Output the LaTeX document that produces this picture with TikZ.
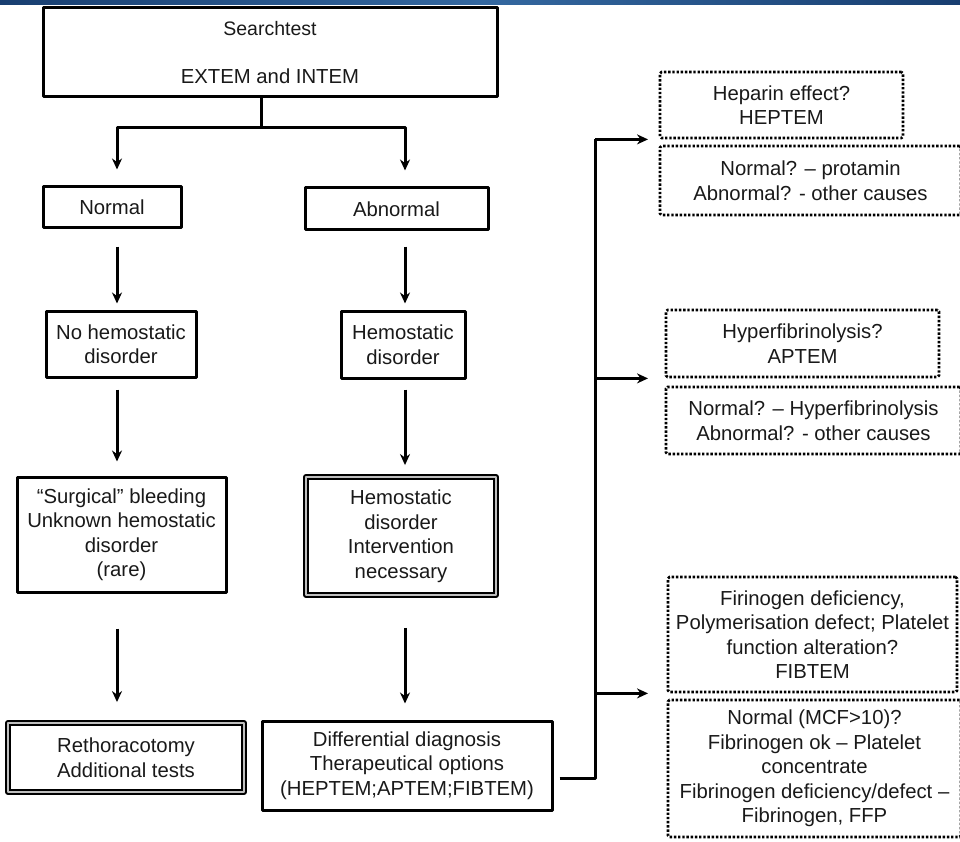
\documentclass[tikz,border=0pt]{standalone}
\usepackage{fontspec}
\setmainfont{Liberation Sans}
\usetikzlibrary{arrows.meta,calc,positioning}
\definecolor{stripblue}{RGB}{52,104,160}
\definecolor{stripdark}{RGB}{24,62,112}

\begin{document}
\begin{tikzpicture}[x=1pt,y=-1pt,>={Stealth[length=11pt,width=10pt]},line join=round,
  every node/.style={font=\fontsize{20.3}{24.5}\selectfont,align=center,text=black!90,inner sep=0pt},
  box/.style 2 args={draw,line width=3pt,minimum width=#1pt,minimum height=#2pt},
  dblbox/.style 2 args={draw,line width=1.9pt,double=gray!50,double distance=2.4pt,minimum width=#1pt,minimum height=#2pt},
  dotbox/.style 2 args={draw,line width=2.8pt,dash pattern=on 2.4pt off 1.8pt,rounded corners=1.5pt,minimum width=#1pt,minimum height=#2pt},
  arr/.style={->,line width=3pt}]
\useasboundingbox (0,0) rectangle (960,842);
% slide strip on top
\shade[left color=stripdark,right color=stripdark,middle color=stripblue] (0,0) rectangle (960,5);
% search test and the two branches
\node[box={454}{89}] (search) at (270,52.5) {\fontsize{19.5}{24.5}\selectfont Searchtest\\[23.5pt]EXTEM and INTEM};
\node[box={138}{41}] (normal) at (112,207.5) {Normal};
\node[box={183}{42}] (abnormal) at (396.5,209) {Abnormal};
\node[box={150}{66}] (nohemo) at (121,344) {No hemostatic\\disorder};
\node[box={124}{67}] (hemo) at (403,344.5) {Hemostatic\\disorder};
\node[box={209}{115}] (surgical) at (121.5,534.5) {“Surgical” bleeding\\Unknown hemostatic\\disorder\\(rare)};
\node[dblbox={190}{118}] (interv) at (401,536) {Hemostatic\\disorder\\Intervention\\necessary};
\node[dblbox={236}{69}] (rethor) at (126,757.5) {Rethoracotomy\\Additional tests};
\node[box={290}{89}] (diff) at (407,765.5) {Differential diagnosis\\Therapeutical options\\(HEPTEM;APTEM;FIBTEM)};
% tests on the right
\node[dotbox={243}{66}] (hep) at (781.5,105) {Heparin effect?\\HEPTEM};
\node[dotbox={301}{69}] (prot) at (810.5,180.5) {Normal? – protamin\\Abnormal? - other causes};
\node[dotbox={273}{67}] (hyper) at (802.5,343.5) {Hyperfibrinolysis?\\APTEM};
\node[dotbox={295}{67}] (hypnorm) at (813.5,420.5) {Normal? – Hyperfibrinolysis\\Abnormal? - other causes};
\node[dotbox={289}{115}] (fib) at (812.5,634.5) {Firinogen deficiency,\\Polymerisation defect; Platelet\\function alteration?\\FIBTEM};
\node[dotbox={293}{137}] (mcf) at (814.5,768.5) {Normal (MCF>10)?\\Fibrinogen ok – Platelet\\concentrate\\Fibrinogen deficiency/defect –\\Fibrinogen, FFP};
% connectors
\coordinate (colL) at (117,0);
\coordinate (colR) at (405,0);
\coordinate (fork) at (261,128);
\coordinate (bus) at (595,778);
\coordinate (tip) at (648,0);
\draw[line width=3pt] (search.south -| fork) -- (fork);
\draw[arr,shorten >=16pt] (fork) -| (normal.north -| colL);
\draw[arr,shorten >=16pt] (fork) -| (abnormal.north -| colR);
\draw[arr,shorten <=17pt,shorten >=6pt] (normal.south -| colL) -- (nohemo.north -| colL);
\draw[arr,shorten <=11pt,shorten >=14pt] (nohemo.south -| colL) -- (surgical.north -| colL);
\draw[arr,shorten <=35pt,shorten >=20pt] (surgical.south -| colL) -- (rethor.north -| colL);
\draw[arr,shorten <=15pt,shorten >=6pt] (abnormal.south -| colR) -- (hemo.north -| colR);
\draw[arr,shorten <=10pt,shorten >=11pt] (hemo.south -| colR) -- (interv.north -| colR);
\draw[arr,shorten <=32pt,shorten >=16pt] (interv.south -| colR) -- (diff.north -| colR);
\draw[line width=3pt,shorten <=6pt] (diff.east |- bus) -- (bus) -- (bus |- hep.south);
\foreach \b in {hep,hyper,fib}
  \draw[arr] (bus |- \b.south) -- (tip |- \b.south);
\end{tikzpicture}
\end{document}
